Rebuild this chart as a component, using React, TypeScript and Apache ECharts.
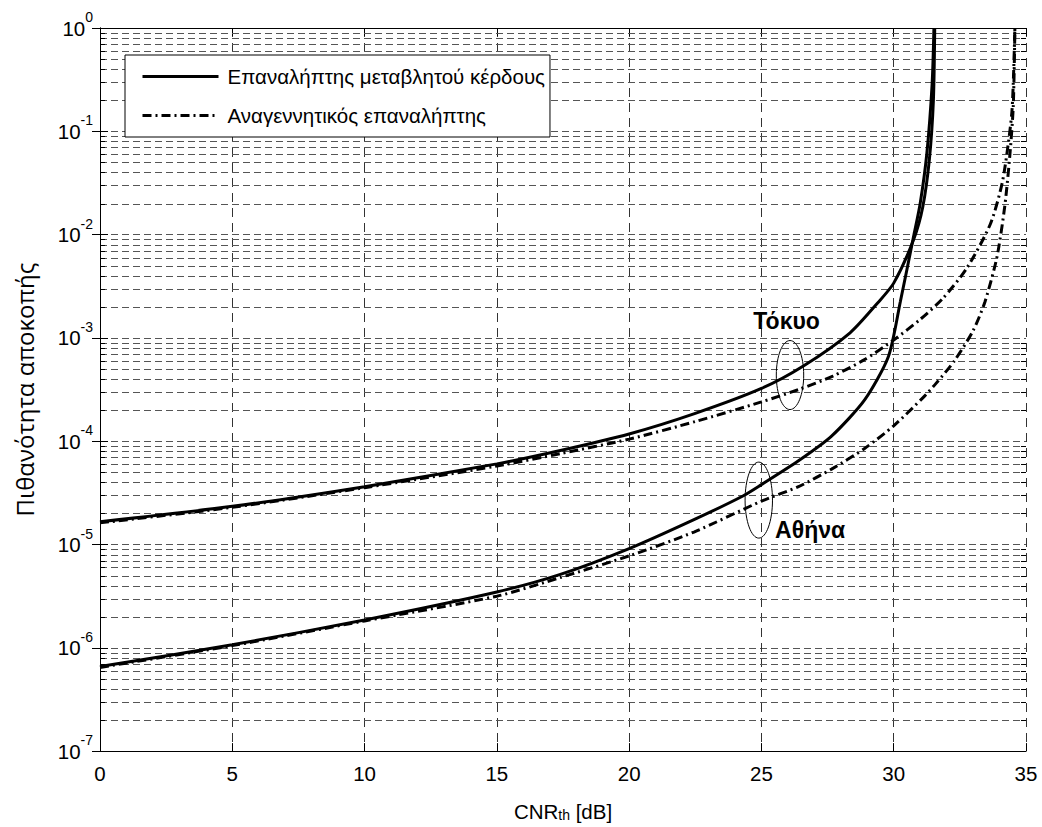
import React, { useEffect, useRef } from 'react';
import * as echarts from 'echarts';

// ---- Data ----
const legendNames = ['Επαναλήπτης μεταβλητού κέρδους', 'Αναγεννητικός επαναλήπτης'];
const xTickValues = [0, 5, 10, 15, 20, 25, 30, 35];
const decadeExponents = [-7, -6, -5, -4, -3, -2, -1, 0];
const minorMantissas = [2, 3, 4, 5, 6, 7, 8, 9];

// Tokyo – variable gain repeater (solid)
const tokyoVGx = [0, 5, 10, 15, 17.4, 20, 22.5, 25, 26.6, 28.35, 29.4, 30, 30.75, 31.1, 31.35, 31.5, 31.55];
const tokyoVGy = [1.66e-5, 2.34e-5, 3.63e-5, 6.03e-5, 8.13e-5, 1.175e-4, 1.86e-4, 3.24e-4, 5.37e-4, 1.12e-3, 2.19e-3, 3.39e-3, 8.9e-3, 1.86e-2, 5.4e-2, 0.2, 1];

// Tokyo – regenerative repeater (dash-dot)
const tokyoRGx = [0, 5, 10, 15, 17.4, 20, 22.5, 25, 26.4, 27.7, 28.9, 30, 31, 31.85, 32.75, 33.65, 34.1, 34.35, 34.47, 34.53, 34.58];
const tokyoRGy = [1.62e-5, 2.29e-5, 3.55e-5, 5.75e-5, 7.59e-5, 1.047e-4, 1.55e-4, 2.4e-4, 3.16e-4, 4.27e-4, 6.17e-4, 9.55e-4, 1.51e-3, 2.4e-3, 4.68e-3, 1.26e-2, 3.16e-2, 8.3e-2, 0.158, 0.355, 1];

// Athens – variable gain repeater (solid)
const athensVGx = [0, 5, 10, 15, 17.4, 20, 22.45, 24.3, 25, 26.4, 27.65, 28.9, 29.8, 30.25, 30.75, 31.0, 31.25, 31.45, 31.52];
const athensVGy = [6.6e-7, 1.07e-6, 1.86e-6, 3.47e-6, 5.13e-6, 9.12e-6, 1.74e-5, 2.95e-5, 3.8e-5, 6.46e-5, 1.12e-4, 2.51e-4, 6.61e-4, 2.24e-3, 9.55e-3, 2.0e-2, 6.03e-2, 0.282, 1];

// Athens – regenerative repeater (dash-dot)
const athensRGx = [0, 5, 10, 15, 17.4, 20, 22.45, 25, 26.4, 27.65, 28.9, 30, 31.1, 31.6, 32.3, 33.0, 33.45, 33.9, 34.2, 34.4, 34.52, 34.58];
const athensRGy = [6.46e-7, 1.05e-6, 1.82e-6, 3.16e-6, 4.79e-6, 7.76e-6, 1.32e-5, 2.63e-5, 3.63e-5, 5.37e-5, 8.51e-5, 1.41e-4, 2.63e-4, 3.63e-4, 6.03e-4, 1.175e-3, 2.24e-3, 6.03e-3, 1.905e-2, 6.31e-2, 0.178, 1];

// Annotations (data coordinates)
const tokyoLabel = { text: 'Τόκυο', x: 25.95, y: 1.47e-3 };
const athensLabel = { text: 'Αθήνα', x: 26.84, y: 1.39e-5 };
const tokyoEllipse = { x: 26.08, y: 4.37e-4 };
const athensEllipse = { x: 24.9, y: 2.69e-5 };

const zip = (xs: number[], ys: number[]) => xs.map((x, i) => [x, ys[i]]);

const FONT = '"Liberation Sans", Arial, Helvetica, sans-serif';
const DASHDOT = [9, 4, 2, 4];
const FS = 20.5;

export default function App() {
  const ref = useRef<HTMLDivElement>(null);

  useEffect(() => {
    if (!ref.current) return;
    const chart = echarts.init(ref.current, undefined, { renderer: 'svg' });

    const minorValues: number[][] = [];
    decadeExponents.slice(0, -1).forEach((e) => {
      minorMantissas.forEach((m) => minorValues.push([0, m * Math.pow(10, e)]));
    });

    const lineSeries = (name: string, data: number[][], dashed: boolean) => ({
      type: 'line',
      name,
      data,
      xAxisIndex: 0,
      yAxisIndex: 0,
      showSymbol: false,
      symbol: 'none',
      smooth: 0.25,
      z: 5,
      lineStyle: { color: '#000', width: 3, type: dashed ? DASHDOT : 'solid', cap: 'butt' },
      itemStyle: { color: '#000' },
      emphasis: { disabled: true },
    });

    const yLabelFormatter = (v: number) => {
      const e = Math.round(Math.log10(v));
      return `{b|10}{s|${e}}`;
    };

    chart.setOption({
      animation: false,
      backgroundColor: '#fff',
      grid: { left: 100, top: 28, right: 16, bottom: 74, containLabel: false },
      legend: {
        data: legendNames,
        orient: 'vertical',
        left: 125,
        top: 55,
        padding: [11, 5, 11, 16],
        itemWidth: 76,
        itemHeight: 20,
        itemGap: 18,
        borderColor: '#000',
        borderWidth: 1,
        backgroundColor: '#fff',
        selectedMode: false,
        itemStyle: { color: 'rgba(0,0,0,0)', borderColor: 'rgba(0,0,0,0)', borderWidth: 0, opacity: 0 },
        lineStyle: { width: 3, color: '#000' },
        textStyle: { fontFamily: FONT, fontSize: FS, color: '#000', padding: [0, 0, 0, 4], lineHeight: 20 },
      },
      xAxis: [
        {
          type: 'value',
          position: 'bottom',
          min: 0,
          max: 35,
          interval: 5,
          name: 'CNR{sub|th} [dB]',
          nameLocation: 'middle',
          nameGap: 40,
          nameTextStyle: {
            fontFamily: FONT,
            fontSize: FS,
            color: '#000',
            rich: {
              sub: { fontFamily: FONT, fontSize: 14, color: '#000', verticalAlign: 'bottom', lineHeight: 14, padding: [19, 0, 0, 0] },
            },
          },
          axisLine: { show: true, lineStyle: { color: '#000', width: 1 } },
          axisTick: { show: true, inside: true, length: 8, lineStyle: { color: '#000' } },
          axisLabel: { fontFamily: FONT, fontSize: FS, color: '#000', margin: 12 },
          splitLine: { show: true, lineStyle: { color: '#333', width: 1, type: [9, 6] } },
        },
        {
          type: 'value',
          position: 'top',
          min: 0,
          max: 35,
          interval: 5,
          axisLine: { show: true, lineStyle: { color: '#000', width: 1 } },
          axisTick: { show: true, inside: true, length: 8, lineStyle: { color: '#000' } },
          axisLabel: { show: false },
          splitLine: { show: false },
        },
      ],
      yAxis: [
        {
          type: 'log',
          logBase: 10,
          position: 'left',
          min: 1e-7,
          max: 1,
          name: 'Πιθανότητα αποκοπής',
          nameLocation: 'middle',
          nameGap: 64,
          nameRotate: 90,
          nameTextStyle: { fontFamily: '"Open Sans", "Noto Sans", sans-serif', fontSize: 24, color: '#000' },
          axisLine: { show: true, lineStyle: { color: '#000', width: 1 } },
          axisTick: { show: true, inside: true, length: 8, lineStyle: { color: '#000' } },
          axisLabel: {
            formatter: yLabelFormatter,
            margin: 7,
            rich: {
              b: { fontFamily: FONT, fontSize: FS, color: '#000', lineHeight: 36 },
              s: { fontFamily: FONT, fontSize: 14, color: '#000', lineHeight: 14, verticalAlign: 'top' },
            },
          },
          splitLine: { show: true, lineStyle: { color: '#555', width: 1, type: [7, 4] } },
        },
        {
          type: 'log',
          logBase: 10,
          position: 'right',
          min: 1e-7,
          max: 1,
          axisLine: { show: true, lineStyle: { color: '#000', width: 1 } },
          axisTick: { show: true, inside: true, length: 8, lineStyle: { color: '#000' } },
          axisLabel: { show: false },
          splitLine: { show: false },
        },
      ],
      series: [
        {
          type: 'custom',
          name: 'minorGrid',
          xAxisIndex: 0,
          yAxisIndex: 0,
          z: 1,
          silent: true,
          data: minorValues,
          encode: { x: 0, y: 1 },
          renderItem: (_params: any, api: any) => {
            const v = api.value(1);
            const p0 = api.coord([0, v]);
            const p1 = api.coord([35, v]);
            const y = Math.round(p0[1]) + 0.5;
            return {
              type: 'group',
              children: [
                { type: 'line', shape: { x1: p0[0], y1: y, x2: p1[0], y2: y }, style: { stroke: '#555', lineWidth: 1, lineDash: [7, 4] } },
                { type: 'line', shape: { x1: p0[0], y1: y, x2: p0[0] + 5, y2: y }, style: { stroke: '#000', lineWidth: 1 } },
                { type: 'line', shape: { x1: p1[0] - 5, y1: y, x2: p1[0], y2: y }, style: { stroke: '#000', lineWidth: 1 } },
              ],
            };
          },
        },
        lineSeries(legendNames[0], zip(tokyoVGx, tokyoVGy), false),
        lineSeries(legendNames[1], zip(tokyoRGx, tokyoRGy), true),
        lineSeries(legendNames[0], zip(athensVGx, athensVGy), false),
        lineSeries(legendNames[1], zip(athensRGx, athensRGy), true),
      ],
    });

    const px = (x: number, y: number) => chart.convertToPixel({ gridIndex: 0 }, [x, y]) as number[];
    const tl = px(tokyoLabel.x, tokyoLabel.y);
    const al = px(athensLabel.x, athensLabel.y);
    const te = px(tokyoEllipse.x, tokyoEllipse.y);
    const ae = px(athensEllipse.x, athensEllipse.y);

    chart.setOption({
      graphic: [
        { type: 'ellipse', z: 10, shape: { cx: te[0], cy: te[1], rx: 13.7, ry: 34.5 }, style: { fill: 'none', stroke: '#000', lineWidth: 1 } },
        { type: 'ellipse', z: 10, shape: { cx: ae[0], cy: ae[1], rx: 13.7, ry: 38 }, style: { fill: 'none', stroke: '#000', lineWidth: 1 } },
        { type: 'text', z: 10, x: tl[0], y: tl[1], style: { text: tokyoLabel.text, font: `bold 23px ${FONT}`, fill: '#000', align: 'center', verticalAlign: 'middle' } },
        { type: 'text', z: 10, x: al[0], y: al[1], style: { text: athensLabel.text, font: `bold 23px ${FONT}`, fill: '#000', align: 'center', verticalAlign: 'middle' } },
      ],
    });

    return () => chart.dispose();
  }, []);

  return (
    <div
      ref={ref}
      style={{ position: 'fixed', left: 0, top: 0, width: 1042, height: 827, background: '#fff' }}
    />
  );
}
